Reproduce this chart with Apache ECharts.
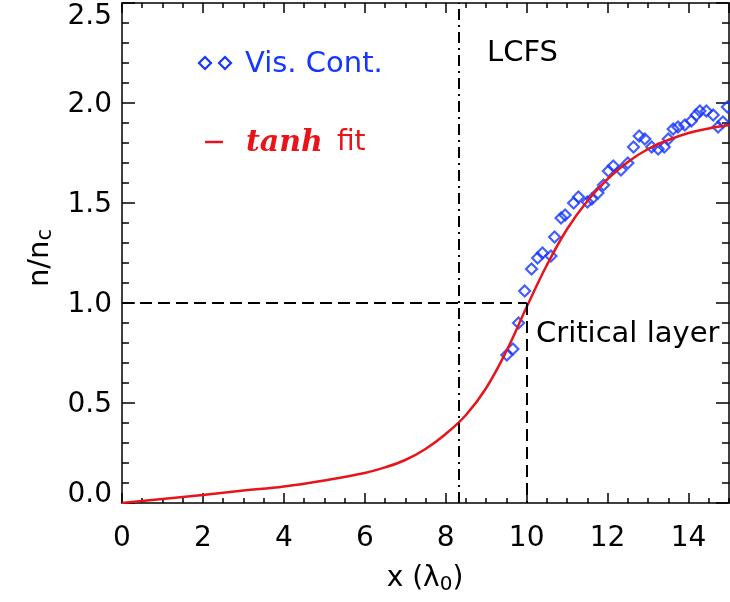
<!DOCTYPE html>
<html>
<head>
<meta charset="utf-8">
<script src="https://cdn.jsdelivr.net/npm/echarts@6/dist/echarts.min.js"></script>
<style>
  html, body { margin: 0; padding: 0; background: #fff; }
  #chart { width: 730px; height: 602px; }
</style>
</head>
<body>
<div id="chart"></div>
<script>
// Visible-continuum density samples (x in vacuum wavelengths, n / n_c)
const visX = [9.51, 9.66, 9.80, 9.95, 10.12, 10.27, 10.39, 10.60, 10.69, 10.85, 10.95, 11.16, 11.28,
  11.50, 11.61, 11.76, 11.90, 12.02, 12.14, 12.33, 12.50, 12.64, 12.78, 12.92, 13.09, 13.25, 13.40,
  13.50, 13.62, 13.74, 13.91, 14.07, 14.19, 14.28, 14.44, 14.61, 14.73, 14.85, 14.96];
const visY = [0.74, 0.77, 0.90, 1.06, 1.17, 1.225, 1.25, 1.235, 1.33, 1.425, 1.44, 1.50, 1.53,
  1.505, 1.52, 1.55, 1.59, 1.66, 1.685, 1.665, 1.70, 1.78, 1.835, 1.82, 1.78, 1.77, 1.78,
  1.82, 1.87, 1.88, 1.89, 1.91, 1.94, 1.96, 1.96, 1.94, 1.88, 1.905, 1.98];

// tanh profile fit
const fitX = [0, 1, 2, 3, 4, 5, 6, 6.5, 7, 7.5, 8, 8.5, 9, 9.5, 10, 10.5, 11, 11.5, 12, 12.5, 13, 13.5, 14, 14.5, 15];
const fitY = [0, 0.02, 0.04, 0.062, 0.083, 0.113, 0.15, 0.178, 0.215, 0.27, 0.345, 0.44, 0.575, 0.76, 0.98,
  1.19, 1.37, 1.51, 1.62, 1.705, 1.77, 1.815, 1.85, 1.873, 1.89];

// Reference positions
const lcfsX = 8.32;
const criticalX = 10;
const criticalY = 1.0;

// Axis ranges and tick spacing
const xRange = [0, 15];
const yRange = [0, 2.5];
const xMajor = 2, xMinor = 0.5;
const yMajor = 0.5, yMinorSplit = 5;

const BLUE = '#1436ff';
const RED = '#e8141a';
const FONT = '"DejaVu Sans", sans-serif';

const chart = echarts.init(document.getElementById('chart'));

function xAxisDef(pos, interval, tickLen, withLabels, withLine) {
  return {
    type: 'value', position: pos, min: xRange[0], max: xRange[1], interval: interval,
    axisLine: { show: withLine, onZero: false, lineStyle: { color: '#000', width: 1.5 } },
    axisTick: { show: true, inside: true, length: tickLen, lineStyle: { color: '#000', width: 1.5 } },
    axisLabel: withLabels ? {
      show: true, margin: 22, color: '#000', fontSize: 28, fontFamily: FONT,
      showMaxLabel: false,
      formatter: v => String(v)
    } : { show: false },
    splitLine: { show: false }
  };
}

function yAxisDef(pos, withLabels) {
  return {
    type: 'value', position: pos, min: yRange[0], max: yRange[1], interval: yMajor,
    axisLine: { show: true, onZero: false, lineStyle: { color: '#000', width: 1.5 } },
    axisTick: { show: true, inside: true, length: 13, lineStyle: { color: '#000', width: 1.5 } },
    minorTick: { show: true, splitNumber: yMinorSplit, length: 7, lineStyle: { color: '#000', width: 1.5 } },
    axisLabel: withLabels ? {
      show: true, margin: 10, color: '#000', fontSize: 28, fontFamily: FONT,
      formatter: v => v === yRange[0] ? '{lo|' + v.toFixed(1) + '}'
        : v === yRange[1] ? '{hi|' + v.toFixed(1) + '}'
        : '{m|' + v.toFixed(1) + '}',
      rich: {
        lo: { fontSize: 28, fontFamily: FONT, color: '#000', padding: [0, 0, 16, 0] },
        hi: { fontSize: 28, fontFamily: FONT, color: '#000', padding: [27, 0, 0, 0] },
        m: { fontSize: 28, fontFamily: FONT, color: '#000', padding: [4, 0, 0, 0] }
      }
    } : { show: false },
    splitLine: { show: false }
  };
}

const dashH = [12, 6];
const dashDot = [11, 5, 2, 5];

chart.setOption({
  animation: false,
  backgroundColor: '#fff',
  grid: { left: 122, right: 1, top: 3, bottom: 99, containLabel: false },
  xAxis: [
    xAxisDef('bottom', xMajor, 10, true, true),
    xAxisDef('bottom', xMinor, 5, false, false),
    xAxisDef('top', xMajor, 10, false, true),
    xAxisDef('top', xMinor, 5, false, false)
  ],
  yAxis: [
    yAxisDef('left', true),
    yAxisDef('right', false)
  ],
  series: [
    {
      name: 'Vis. Cont.',
      type: 'scatter',
      xAxisIndex: 0, yAxisIndex: 0,
      symbol: 'diamond',
      symbolSize: 11,
      itemStyle: { color: 'rgba(0,0,0,0)', borderColor: BLUE, borderWidth: 2.2 },
      data: visX.map((x, i) => [x, visY[i]]),
      z: 3
    },
    {
      name: 'tanh fit',
      type: 'line',
      xAxisIndex: 0, yAxisIndex: 0,
      smooth: 0.4,
      showSymbol: false,
      lineStyle: { color: RED, width: 2.5 },
      data: fitX.map((x, i) => [x, fitY[i]]),
      z: 4,
      markLine: {
        silent: true,
        symbol: 'none',
        label: { show: false },
        data: [
          [{ coord: [xRange[0], criticalY], lineStyle: { color: '#000', width: 2, type: dashH } },
           { coord: [criticalX, criticalY] }],
          [{ coord: [criticalX, criticalY], lineStyle: { color: '#000', width: 2, type: dashH } },
           { coord: [criticalX, yRange[0]] }],
          [{ coord: [lcfsX, yRange[0]], lineStyle: { color: '#000', width: 2, type: dashDot } },
           { coord: [lcfsX, yRange[1]] }]
        ]
      }
    }
  ],
  graphic: [
    // legend: visible-continuum markers
    { type: 'polygon', shape: { points: [[205, 57], [211, 63], [205, 69], [199, 63]] },
      style: { fill: 'none', stroke: BLUE, lineWidth: 2.2 } },
    { type: 'polygon', shape: { points: [[225, 57], [231, 63], [225, 69], [219, 63]] },
      style: { fill: 'none', stroke: BLUE, lineWidth: 2.2 } },
    { type: 'text', x: 245, y: 64,
      style: { text: 'Vis. Cont.', fill: BLUE, fontSize: 29, fontFamily: FONT, verticalAlign: 'middle' } },
    // legend: tanh fit
    { type: 'line', shape: { x1: 205, y1: 142, x2: 223, y2: 142 }, style: { stroke: RED, lineWidth: 2.5 } },
    { type: 'text', x: 246, y: 143,
      style: {
        text: '{t|tanh}{f|fit}', verticalAlign: 'middle',
        rich: {
          t: { fill: RED, fontSize: 30, fontFamily: '"DejaVu Serif", serif', fontWeight: 'bold', fontStyle: 'italic' },
          f: { fill: RED, fontSize: 28, fontFamily: FONT, padding: [0, 0, 0, 14] }
        }
      } },
    // annotations
    { type: 'text', x: 487, y: 53,
      style: { text: 'LCFS', fill: '#000', fontSize: 29, fontFamily: FONT, verticalAlign: 'middle' } },
    { type: 'text', x: 536, y: 334,
      style: { text: 'Critical layer', fill: '#000', fontSize: 29, fontFamily: FONT, verticalAlign: 'middle' } },
    // axis titles
    { type: 'text', x: 425, y: 579,
      style: {
        text: '{a|x (λ}{s|0}{a|)}', align: 'center', verticalAlign: 'middle',
        rich: {
          a: { fill: '#000', fontSize: 28, fontFamily: FONT },
          s: { fill: '#000', fontSize: 20, fontFamily: FONT, padding: [12, 0, 0, 0] }
        }
      } },
    { type: 'text', x: 40, y: 258, rotation: Math.PI / 2,
      style: {
        text: '{a|n/n}{s|c}', align: 'center', verticalAlign: 'middle',
        rich: {
          a: { fill: '#000', fontSize: 29, fontFamily: FONT },
          s: { fill: '#000', fontSize: 21, fontFamily: FONT, padding: [12, 0, 0, 0] }
        }
      } }
  ]
});
</script>
</body>
</html>
